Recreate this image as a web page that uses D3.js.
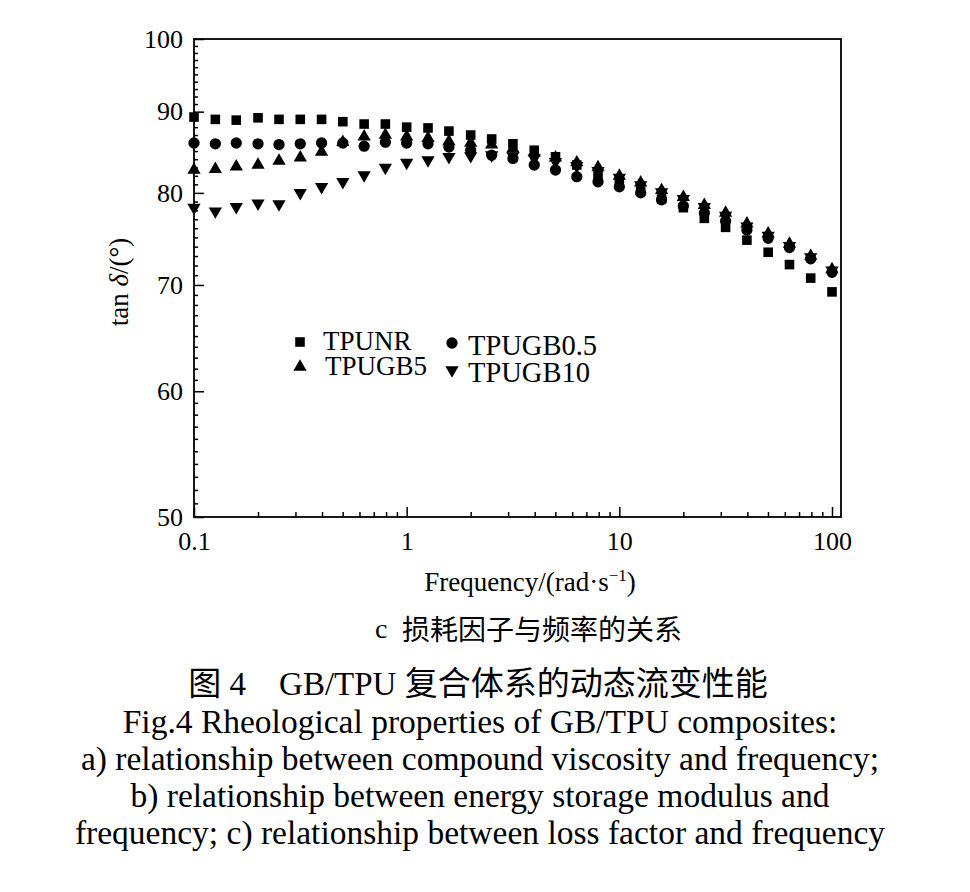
<!DOCTYPE html>
<html>
<head>
<meta charset="utf-8">
<script src="https://cdn.jsdelivr.net/npm/d3@7"></script>
<style>
  body { margin: 0; background: #fff; }
  svg { display: block; }
</style>
</head>
<body>
<div id="graph"></div>
<script>
//data: loss factor (tan delta, degrees) vs angular frequency
const freq = [0.1, 0.126, 0.158, 0.2, 0.251, 0.316, 0.398, 0.501, 0.631, 0.794,
  1, 1.26, 1.58, 2, 2.51, 3.16, 3.98, 5.01, 6.31, 7.94,
  10, 12.6, 15.8, 20, 25.1, 31.6, 39.8, 50.1, 63.1, 79.4, 100];
const tpunr = [89.3, 89.0, 88.9, 89.2, 89.0, 89.0, 89.0, 88.7, 88.4, 88.4,
  88.0, 87.9, 87.5, 87.0, 86.5, 85.9, 85.1, 84.3, 83.3, 82.2,
  81.3, 80.2, 79.3, 78.3, 77.1, 76.1, 74.7, 73.4, 72.1, 70.7, 69.3];
const tpugb05 = [86.0, 85.9, 86.0, 85.9, 85.8, 85.9, 86.0, 86.0, 85.6, 86.1,
  86.0, 85.9, 85.5, 85.1, 84.5, 84.1, 83.3, 82.7, 81.9, 81.3,
  80.7, 80.0, 79.2, 78.5, 77.7, 76.8, 75.8, 74.9, 73.9, 72.7, 71.3];
const tpugb5 = [82.7, 82.8, 83.1, 83.3, 83.8, 84.2, 84.9, 86.1, 86.8, 87.0,
  86.8, 86.6, 86.2, 86.0, 85.8, 85.3, 84.8, 84.2, 83.6, 83.0,
  82.0, 81.2, 80.3, 79.5, 78.6, 77.7, 76.5, 75.4, 74.3, 73.0, 71.6];
const tpugb10 = [78.3, 77.9, 78.4, 78.8, 78.7, 80.0, 80.7, 81.3, 82.1, 83.0,
  83.6, 83.9, 84.3, 84.4, 84.5, 84.4, 84.1, 83.7, 83.2, 82.6,
  81.8, 80.9, 80.1, 79.3, 78.4, 77.4, 76.2, 75.2, 74.1, 72.9, 71.5];
const seriesNames = ["TPUNR", "TPUGB0.5", "TPUGB5", "TPUGB10"];
const xTickValues = [0.1, 1, 10, 100];
const yTickValues = [50, 60, 70, 80, 90, 100];
const xMinorValues = [0.2, 0.3, 0.4, 0.5, 0.6, 0.7, 0.8, 0.9, 2, 3, 4, 5, 6, 7, 8, 9,
  20, 30, 40, 50, 60, 70, 80, 90];
const yMinorValues = d3.range(51, 100).filter(v => v % 10 !== 0);

const allSeries = [tpunr, tpugb05, tpugb5, tpugb10];

//convenience
const W = 970;
const H = 892;
const serif = "'Liberation Serif', 'Times New Roman', serif";
const cjk = "'Noto Sans CJK SC', sans-serif";
const mixed = "'Liberation Serif', 'Noto Sans CJK SC', serif";
const plotL = 194, plotR = 841, plotT = 39, plotB = 517;

//marker shapes, one per series
const symbolTypes = [d3.symbolSquare, d3.symbolCircle, d3.symbolTriangle, d3.symbolTriangle];
const symbolSizes = [92, 100, 76, 76];
const symbolRot = [0, 0, 0, 180];
const symbolPath = i => d3.symbol().type(symbolTypes[i]).size(symbolSizes[i])();

//scales
const xScale = d3.scaleLog()
  .domain([0.1, 100])
  .range([plotL, 832]);
const yScale = d3.scaleLog()
  .domain([50, 100])
  .range([plotB, plotT]);

//chart area
const chart = d3.select("#graph")
  .append("svg")
  .attr("width", W)
  .attr("height", H)
  .style("background", "#fff");

//axes (ticks point inward)
const xAxis = d3.axisBottom(xScale)
  .tickValues(xTickValues)
  .tickFormat(d => String(d))
  .tickSize(-10)
  .tickSizeOuter(0)
  .tickPadding(15);
const xMinor = d3.axisBottom(xScale)
  .tickValues(xMinorValues)
  .tickFormat("")
  .tickSize(-5)
  .tickSizeOuter(0);
const yAxis = d3.axisLeft(yScale)
  .tickValues(yTickValues)
  .tickFormat(d => String(d))
  .tickSize(-10)
  .tickSizeOuter(0)
  .tickPadding(11);
const yMinor = d3.axisLeft(yScale)
  .tickValues(yMinorValues)
  .tickFormat("")
  .tickSize(-4)
  .tickSizeOuter(0);

const styleAxis = g => {
  g.select(".domain").remove();
  g.selectAll("line").attr("stroke", "#000").attr("stroke-width", 1.5);
  g.selectAll("text").attr("fill", "#000");
  g.attr("font-family", serif).attr("font-size", 26);
};

chart.append("g")
  .attr("transform", "translate(0," + plotB + ")")
  .call(xMinor)
  .call(styleAxis);
chart.append("g")
  .attr("id", "x-axis")
  .attr("transform", "translate(0," + plotB + ")")
  .call(xAxis)
  .call(styleAxis);
chart.append("g")
  .attr("transform", "translate(" + plotL + ",0)")
  .call(yMinor)
  .call(styleAxis);
chart.append("g")
  .attr("id", "y-axis")
  .attr("transform", "translate(" + plotL + ",0)")
  .call(yAxis)
  .call(styleAxis);

//frame
chart.append("rect")
  .attr("x", plotL)
  .attr("y", plotT)
  .attr("width", plotR - plotL)
  .attr("height", plotB - plotT)
  .attr("fill", "none")
  .attr("stroke", "#000")
  .attr("stroke-width", 1.8);

//axis titles
const xTitle = chart.append("text")
  .attr("x", 530)
  .attr("y", 591)
  .attr("text-anchor", "middle")
  .attr("font-family", serif)
  .attr("font-size", 27);
xTitle.append("tspan").text("Frequency/(rad·s");
xTitle.append("tspan").attr("font-size", 17).attr("dy", -10).text("−1");
xTitle.append("tspan").attr("dy", 10).text(")");

const yTitle = chart.append("text")
  .attr("transform", "translate(128,282) rotate(-90)")
  .attr("text-anchor", "middle")
  .attr("font-family", serif)
  .attr("font-size", 27);
yTitle.append("tspan").text("tan ");
yTitle.append("tspan").attr("font-style", "italic").text("δ");
yTitle.append("tspan").text("/(°)");

//apply data to chart
allSeries.forEach((vals, i) => {
  chart.append("g")
    .attr("class", "series")
    .selectAll("path")
    .data(vals)
    .enter()
    .append("path")
    .attr("d", symbolPath(i))
    .attr("transform", (d, j) => "translate(" + xScale(freq[j]) + "," + yScale(d) + ") rotate(" + symbolRot[i] + ")")
    .attr("fill", "#000");
});

//legend
const legendPos = [
  {mx: 300, my: 342, tx: 323, ty: 350, fs: 27},
  {mx: 452, my: 343, tx: 468, ty: 355, fs: 28.5},
  {mx: 300, my: 367, tx: 325, ty: 375, fs: 27},
  {mx: 452, my: 370, tx: 468, ty: 382, fs: 28.5}
];
const legend = chart.append("g").attr("id", "legend");
seriesNames.forEach((name, i) => {
  const p = legendPos[i];
  legend.append("path")
    .attr("d", symbolPath(i))
    .attr("transform", "translate(" + p.mx + "," + p.my + ") rotate(" + symbolRot[i] + ")")
    .attr("fill", "#000");
  legend.append("text")
    .text(name)
    .attr("x", p.tx)
    .attr("y", p.ty)
    .attr("font-family", serif)
    .attr("font-size", p.fs);
});

//panel caption
chart.append("text")
  .text("c")
  .attr("x", 375)
  .attr("y", 638)
  .attr("font-family", serif)
  .attr("font-size", 28);
chart.append("text")
  .text("损耗因子与频率的关系")
  .attr("x", 402)
  .attr("y", 640)
  .attr("font-family", cjk)
  .attr("font-size", 28);

//figure caption
chart.append("text")
  .text("图 4\u3000GB/TPU 复合体系的动态流变性能")
  .attr("x", 478)
  .attr("y", 695)
  .attr("text-anchor", "middle")
  .attr("font-family", mixed)
  .attr("font-size", 33);

const captionLines = [
  "Fig.4 Rheological properties of GB/TPU composites:",
  "a) relationship between compound viscosity and frequency;",
  "b) relationship between energy storage modulus and",
  "frequency; c) relationship between loss factor and frequency"
];
chart.append("g")
  .selectAll("text")
  .data(captionLines)
  .enter()
  .append("text")
  .text(d => d)
  .attr("x", 480)
  .attr("y", (d, i) => 733 + i * 37)
  .attr("text-anchor", "middle")
  .attr("font-family", serif)
  .attr("font-size", 33.5);
</script>
</body>
</html>
